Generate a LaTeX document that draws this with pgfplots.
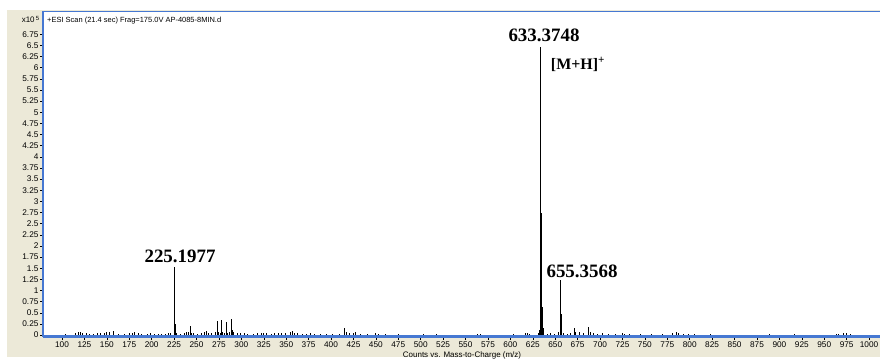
\documentclass[border=0pt]{standalone}
\usepackage{pgfplots}
\pgfplotsset{compat=1.18}
\usepackage{fontspec}
\setmainfont{Liberation Sans}
\newfontfamily\serifbold{Liberation Serif}
\definecolor{beige}{HTML}{ECE9D8}
\definecolor{axblue}{RGB}{70,120,210}
\begin{document}
\begin{tikzpicture}
\useasboundingbox (0,0) rectangle (880bp,359bp);
\fill[beige] (7bp,2bp) rectangle (880bp,349bp);
\fill[white] (44bp,23bp) rectangle (880bp,347bp);
\begin{axis}[
  at={(44bp,23bp)}, anchor=south west,
  scale only axis, width=836bp, height=324bp,
  xmin=79.9, xmax=1012.2, ymin=-0.02, ymax=7.25,
  axis line style={draw=none},
  xtick={100,125,...,1000},
  ytick={0,0.25,0.5,0.75,1,1.25,1.5,1.75,2,2.25,2.5,2.75,3,3.25,3.5,3.75,4,4.25,4.5,4.75,5,5.25,5.5,5.75,6,6.25,6.5,6.75},
  yticklabels={0,0.25,0.5,0.75,1,1.25,1.5,1.75,2,2.25,2.5,2.75,3,3.25,3.5,3.75,4,4.25,4.5,4.75,5,5.25,5.5,5.75,6,6.25,6.5,6.75},
  xtick pos=bottom, ytick pos=left,
  tick align=outside, major tick length=3.5bp,
  tick style={black, line width=0.5bp},
  /pgf/number format/assume math mode=true,
  /pgf/number format/set thousands separator={},
  tick label style={font=\fontsize{8.3}{9.5}\selectfont},
  xticklabel style={yshift=1bp},
  yticklabel style={xshift=1.5bp},
  clip=true,
]
\addplot[ycomb, black, line width=0.75bp, mark=none] coordinates {
(104,0.02)(115,0.05)(118,0.08)(121,0.06)(123,0.05)(127,0.04)(131,0.03)(135,0.03)(139,0.04)(143,0.05)
(147,0.05)(150,0.07)(153,0.08)(157,0.09)(163,0.02)(169,0.03)(175,0.04)(178,0.05)(181,0.06)(185,0.04)
(189,0.03)(195,0.03)(199,0.04)(203,0.03)(207,0.02)(211,0.03)(215,0.03)(219,0.04)(221,0.05)
(225.2,1.53)(226.2,0.25)(227,0.05)(232,0.03)(237,0.04)(239,0.06)(241,0.07)(243.2,0.20)(244,0.05)
(247,0.04)(251,0.03)(255,0.04)(259,0.06)(261,0.09)(263,0.05)(267,0.04)(271,0.06)(273.2,0.31)(274,0.07)
(277,0.05)(278.2,0.35)(279,0.06)(281,0.04)(283.2,0.29)(284,0.05)(287,0.06)(289.2,0.37)(290,0.12)(291,0.08)
(295,0.04)(299,0.05)(303,0.04)(307,0.03)(313,0.03)(318,0.04)(322,0.04)(325,0.05)(328,0.04)(333,0.03)
(337,0.04)(341,0.04)(345,0.05)(349,0.04)(355,0.06)(357,0.09)(359,0.05)(363,0.04)(368,0.03)
(372,0.03)(377,0.04)(381,0.02)(388,0.03)(395,0.03)(401,0.02)(409,0.03)(415.3,0.15)(417,0.06)(421,0.04)
(425,0.05)(427,0.07)(433,0.03)(441,0.02)(449,0.04)(453,0.03)(461,0.02)(475,0.02)(503,0.02)(517,0.02)
(563,0.03)(567,0.02)(603,0.02)(617,0.04)(619,0.05)(621,0.03)(631,0.05)(632.4,0.12)
(633.37,6.46)(634.38,2.74)(635.38,0.63)(636.4,0.15)(637,0.06)(641,0.03)(645,0.04)(649,0.03)(653,0.04)
(654,0.08)(655.36,1.23)(656.36,0.47)(657.37,0.12)(659,0.04)(663,0.03)(667,0.05)(671.3,0.15)(673,0.08)
(677,0.07)(681,0.05)(687.3,0.18)(689,0.08)(693,0.04)(697,0.03)
(703,0.04)(709,0.03)(717,0.02)(725,0.04)(727,0.03)(733,0.02)(745,0.02)(757,0.03)(769,0.02)(781,0.04)
(785,0.07)(787,0.04)(793,0.03)(799,0.02)(805,0.02)(823,0.02)(889,0.02)(917,0.02)(963,0.02)(966,0.03)
(971,0.04)(975,0.04)(979,0.02)
};
\node[font=\serifbold\bfseries\fontsize{19}{22}\selectfont] at (axis cs:637.5,6.72) {633.3748};
\node[font=\serifbold\bfseries\fontsize{16}{19}\selectfont] at (axis cs:675.4,6.08) {[M+H]\textsuperscript{+}};
\node[font=\serifbold\bfseries\fontsize{19}{22}\selectfont] at (axis cs:231.6,1.77) {225.1977};
\node[font=\serifbold\bfseries\fontsize{19}{22}\selectfont] at (axis cs:679.9,1.44) {655.3568};
\end{axis}
% axis frame lines
\draw[axblue, line width=2bp] (43bp,22bp) -- (43bp,348bp);
\draw[axblue, line width=1.5bp] (43bp,347.3bp) -- (880bp,347.3bp);
\draw[axblue, line width=2.6bp] (43bp,22.2bp) -- (880bp,22.2bp);
% title and multiplier
\node[anchor=base west, font=\fontsize{7.5}{9}\selectfont, inner sep=0pt] at (47bp,336.5bp) {+ESI Scan (21.4 sec) Frag=175.0V AP-4085-8MIN.d};
\node[anchor=base east, font=\fontsize{8}{9}\selectfont, inner sep=0pt] at (40bp,336bp) {x10\,\textsuperscript{5}};
\node[anchor=base, font=\fontsize{8}{9}\selectfont, inner sep=0pt] at (462bp,1.5bp) {Counts vs. Mass-to-Charge (m/z)};
\end{tikzpicture}
\end{document}
